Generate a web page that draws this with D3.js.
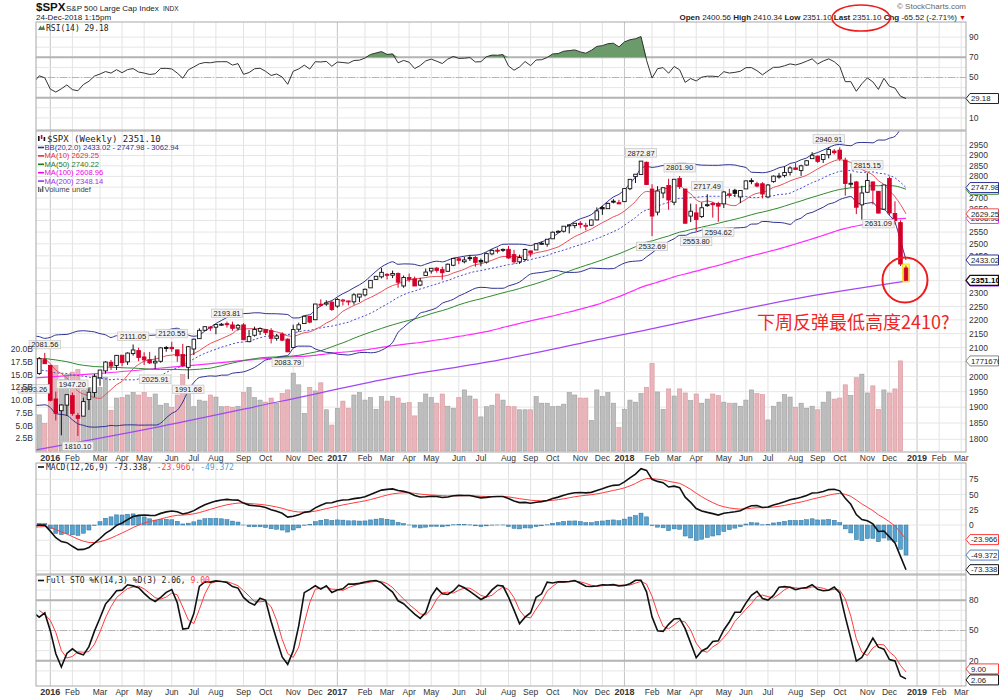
<!DOCTYPE html>
<html>
<head>
<meta charset="utf-8">
<script src="https://cdn.jsdelivr.net/npm/d3@7"></script>
<style>
body { margin: 0; background: #fff; }
</style>
</head>
<body>
<svg id="chart"></svg>
<script>
// weekly bars, Monday of each week, starting here
let firstWeek = "2015-12-14"

let open = [
  2013.37,2010.27,2057.77,2038.20,1926.12,1888.66,1906.28,1936.94,1873.25,1871.44,1924.44,1947.13,1996.11,2019.27,2048.64,2037.89,2073.19,2050.23,2078.83,2089.37,2067.17,2057.55,2046.53,2052.23,2100.13,2100.83,2091.75,2075.58,2031.45,2095.05,2131.72,2162.04,2173.71,2173.15,2183.76,2186.08,2181.58,2170.19,2181.61,2120.86,2143.99,2158.54,2164.33,2160.39,2132.95,2148.50,2129.78,2100.59,2165.64,2186.43,2212.95,2200.65,2258.83,2259.24,2266.23,
  2251.57,2273.59,2269.14,2267.78,2286.01,2294.28,2321.72,2354.91,2365.23,2375.23,2371.56,2378.24,2329.11,2362.34,2357.16,2332.62,2370.33,2388.50,2399.94,2393.98,2387.21,2411.67,2437.83,2425.88,2442.55,2443.32,2431.39,2424.51,2458.22,2473.47,2475.94,2477.14,2454.96,2425.50,2435.13,2470.35,2474.52,2502.51,2498.56,2521.20,2551.39,2553.39,2578.08,2577.75,2587.47,2577.75,2579.49,2602.66,2657.19,2652.19,2685.92,2679.09,
  2683.73,2742.67,2798.96,2809.16,2867.23,2741.06,2636.75,2722.99,2757.37,2681.06,2790.54,2741.38,2619.35,2633.45,2617.18,2670.10,2675.40,2675.01,2673.68,2718.59,2735.39,2705.11,2741.67,2780.18,2765.79,2765.49,2704.95,2775.62,2798.43,2804.55,2819.00,2840.29,2827.95,2853.93,2884.69,2896.96,2880.72,2903.83,2921.83,2926.29,2877.53,2763.83,2773.94,2669.27,2726.37,2773.93,2730.74,2649.97,2790.50,2630.86,2590.75,2400.56
]
let high = [
  2076.72,2067.03,2081.56,2038.20,1950.33,1908.85,1940.24,1947.20,1881.60,1930.68,1962.96,2009.13,2022.37,2052.36,2056.60,2074.02,2073.19,2083.41,2111.05,2099.89,2083.42,2084.87,2071.88,2100.57,2105.26,2120.55,2093.66,2113.32,2105.72,2131.72,2169.05,2175.63,2177.09,2183.48,2188.45,2193.81,2193.42,2184.87,2187.87,2163.30,2175.30,2172.67,2165.86,2169.60,2148.44,2154.79,2133.25,2182.30,2189.89,2213.35,2214.10,2259.80,2277.53,2273.82,2273.82,
  2282.10,2279.27,2272.08,2300.99,2298.31,2319.23,2351.31,2367.34,2400.98,2378.80,2390.01,2382.36,2370.42,2378.36,2366.37,2361.37,2398.16,2399.94,2403.87,2405.77,2418.71,2440.23,2446.20,2446.20,2453.82,2450.42,2439.17,2463.54,2477.62,2484.04,2480.38,2490.87,2474.93,2454.77,2480.09,2471.97,2500.23,2508.85,2519.44,2552.51,2557.65,2575.44,2582.98,2588.42,2597.02,2590.09,2604.21,2657.74,2665.19,2679.63,2694.97,2692.12,
  2743.45,2787.85,2810.33,2872.87,2870.62,2763.39,2754.42,2747.76,2789.15,2786.57,2801.90,2741.38,2674.78,2672.08,2680.26,2717.49,2682.86,2682.92,2732.86,2742.10,2742.24,2736.93,2779.90,2791.47,2774.99,2772.74,2764.41,2804.53,2816.76,2848.03,2848.03,2863.43,2855.63,2876.16,2916.50,2900.18,2906.32,2940.91,2931.42,2939.86,2889.45,2813.46,2778.94,2756.55,2815.15,2775.99,2730.74,2760.88,2800.18,2685.44,2601.13,2410.34
]
let low = [
  1993.26,2005.93,2043.62,1918.46,1857.83,1812.29,1872.70,1872.65,1810.10,1871.44,1891.00,1931.81,1969.26,2010.06,2022.49,2022.49,2035.08,2039.74,2072.02,2052.28,2039.45,2043.13,2025.91,2047.26,2085.55,2085.10,2050.37,2032.57,1991.68,2074.02,2131.72,2159.01,2159.73,2147.58,2177.97,2172.00,2160.39,2161.28,2127.81,2119.12,2139.17,2145.04,2144.85,2114.72,2124.43,2122.60,2083.79,2100.59,2156.08,2186.43,2187.44,2199.13,2249.25,2252.70,2233.62,
  2245.13,2254.25,2254.52,2257.02,2267.21,2288.54,2321.72,2352.87,2358.96,2354.54,2360.16,2322.25,2322.25,2344.73,2328.95,2328.66,2369.94,2378.20,2381.73,2353.81,2386.65,2407.70,2415.70,2419.38,2428.69,2405.70,2407.70,2418.53,2452.69,2459.93,2466.48,2437.75,2417.35,2417.35,2428.20,2446.55,2474.52,2496.67,2488.03,2521.20,2547.92,2547.92,2544.00,2566.17,2566.33,2557.45,2575.85,2600.88,2624.75,2652.19,2676.11,2673.61,
  2682.36,2736.06,2769.14,2808.12,2759.97,2532.69,2622.45,2699.38,2647.32,2667.84,2741.38,2585.89,2593.06,2553.80,2610.79,2660.02,2612.67,2594.62,2655.20,2701.91,2704.54,2676.81,2741.67,2763.59,2749.16,2698.67,2698.95,2770.49,2789.24,2795.14,2804.14,2831.44,2802.49,2850.49,2884.69,2864.12,2864.12,2886.16,2904.65,2874.02,2710.51,2749.03,2628.16,2603.54,2722.94,2670.75,2631.09,2649.97,2621.53,2583.23,2408.55,2351.10
]
let close = [
  2005.55,2060.99,2043.94,1922.03,1880.33,1906.90,1940.24,1880.05,1864.78,1917.78,1948.05,1999.99,2022.19,2049.58,2035.94,2072.78,2047.60,2080.73,2091.58,2065.30,2057.14,2046.61,2052.32,2099.06,2099.13,2096.07,2071.22,2037.41,2102.95,2129.90,2161.74,2175.03,2173.60,2182.87,2184.05,2183.87,2169.04,2179.98,2127.81,2139.16,2164.69,2168.27,2153.74,2132.98,2141.16,2126.41,2085.18,2164.45,2181.90,2213.35,2191.95,2259.53,2258.07,2263.79,2238.83,
  2276.98,2274.64,2271.31,2294.69,2297.42,2316.10,2351.16,2367.34,2383.12,2372.60,2378.25,2343.98,2362.72,2355.54,2328.95,2348.69,2384.20,2399.29,2390.90,2381.73,2415.82,2439.07,2431.77,2433.15,2438.30,2423.41,2425.18,2459.27,2472.54,2472.10,2476.83,2441.32,2425.55,2443.05,2476.55,2461.43,2500.23,2502.22,2519.36,2549.33,2553.17,2575.21,2581.07,2587.84,2582.30,2578.85,2602.42,2642.22,2651.50,2675.81,2683.34,2673.61,
  2743.15,2786.24,2810.30,2872.87,2762.13,2619.55,2732.22,2747.30,2691.25,2786.57,2752.01,2588.26,2640.87,2604.47,2656.30,2670.14,2669.91,2663.42,2727.72,2712.97,2721.33,2734.62,2779.03,2779.66,2754.88,2718.37,2759.82,2801.31,2801.83,2818.82,2840.35,2833.28,2850.13,2874.69,2901.52,2871.68,2904.98,2929.67,2913.98,2885.57,2767.13,2767.78,2658.69,2723.06,2781.01,2736.27,2632.56,2760.17,2633.08,2599.95,2416.62,2351.10
]
// weekly volume, billions of shares
let volume = [
  13.5,7.1,5.4,15.5,16.8,14.0,15.0,15.5,16.0,12.0,12.5,14.8,12.5,14.5,8.0,10.4,10.5,11.0,11.5,11.0,11.5,10.5,11.2,9.0,9.3,8.6,11.0,15.0,12.5,8.7,10.0,9.8,11.0,10.6,8.7,8.8,8.6,8.8,11.5,12.5,10.5,10.0,9.6,10.4,9.4,11.3,12.0,15.3,13.0,7.4,12.5,11.8,13.4,8.1,5.1,
  8.4,9.8,8.4,11.0,11.5,10.0,10.5,8.2,10.7,9.8,10.7,10.4,9.4,9.5,6.9,9.5,11.2,10.5,9.4,11.2,8.8,8.4,10.5,12.0,10.8,10.2,6.7,8.7,9.0,11.2,10.0,8.8,8.7,8.1,8.1,8.1,10.7,9.4,9.4,8.7,8.8,9.2,11.5,11.0,10.4,10.4,6.0,12.0,10.7,11.5,9.4,4.65,
  8.2,10.0,9.6,11.3,12.5,17.2,11.6,8.2,12.2,10.8,12.2,11.4,9.9,11.2,9.4,10.2,11.2,10.9,9.6,9.4,9.4,8.8,10.0,12.0,11.3,11.1,6.1,8.8,9.6,11.1,10.6,8.6,9.4,8.4,8.8,8.1,9.6,11.6,10.2,10.4,13.0,10.9,14.4,15.1,11.4,12.8,8.2,12.0,11.4,12.2,17.7,null
]

// 2015 weekly closes before the first bar (indicator warm-up, not drawn)
let warmClose = [
  2058.20,2044.81,2019.42,2051.82,1994.99,2055.47,2096.99,2110.30,2104.50,2071.26,2053.40,2108.10,2061.02,2066.96,2102.06,2081.18,2117.69,2108.29,2116.10,2122.73,2126.06,2107.39,2092.83,2094.11,2109.99,2101.49,2076.78,2076.62,2126.64,2079.65,2103.84,2077.57,2091.54,1970.89,1988.87,1921.22,1961.05,1958.03,1931.34,1951.36,2014.89,2033.11,2075.15,2079.36,2099.20,2023.04,2089.17,2090.11,2091.69,2012.37
]
// highs / lows of the last 16 warm-up weeks
let warmHigh = [1993.48,1992.67,1975.01,2020.86,1965.66,1951.36,2020.13,2033.54,2075.15,2094.32,2116.48,2093.84,2097.06,2093.00,2104.27,2090.42]
let warmLow = [1867.01,1903.07,1937.17,1953.03,1908.66,1871.91,1953.03,1990.73,2018.19,2069.45,2080.76,2022.02,2019.39,2080.88,2042.35,2008.80]

let ma100ReadDates = ["2015-12-17","2016-03-07","2016-07-12","2016-11-16"]
let ma100ReadValues = [1996, 2011, 2041, 2069]
let ma200Dates = ["2015-12-16","2016-05-22","2016-10-21","2017-03-09","2017-07-27","2017-12-14","2018-01-25","2018-08-12","2018-12-24"]
let ma200Values = [1768, 1839, 1918, 1994, 2057, 2137, 2161, 2283, 2348.14]

// high/low annotations
let noteWeeks = ["2015-12-28","2015-12-14","2016-02-01","2016-02-08","2016-04-18","2016-05-16","2016-06-06","2016-06-27","2016-08-15","2016-10-31","2018-01-22","2018-02-05","2018-03-12","2018-04-02","2018-04-16","2018-04-30","2018-09-17","2018-11-05","2018-11-19"]
let noteValues = [2081.56,1993.26,1947.20,1810.10,2111.05,2025.91,2120.55,1991.68,2193.81,2083.79,2872.87,2532.69,2801.90,2553.80,2717.49,2594.62,2940.91,2815.15,2631.09]
let noteSides = ["above","below","above","below","above","below","above","below","above","below","above","below","above","below","above","below","above","above","below"]

// axis ticks
let priceTicks = [1800,1850,1900,1950,2000,2050,2100,2150,2200,2250,2300,2350,2400,2450,2500,2550,2600,2650,2700,2750,2800,2850,2900,2950]
let priceLabelTicks = [1800,1850,1900,1950,2000,2100,2150,2200,2250,2300,2450,2500,2550,2650,2700,2800,2850,2900,2950]
let volumeTicks = [2.5,5,7.5,10,12.5,15,17.5,20]
let rsiGrid = [10,20,30,40,50,60,70,80,90]
let rsiLabels = [10,50,70,90]
let macdGrid = [75,50,25,0,-25,-50,-75]
let macdLabels = [75,50,25,0]
let stoGrid = [10,20,30,40,50,60,70,80,90,100]
let stoLabels = [20,50,80]

// last values as printed on the chart
let lastRsi = "29.18"
let lastMacd = ["-73.338", "-23.966", "-49.372"]
let lastSto = ["2.06", "9.00"]
let lastBB = ["2433.02", "2747.98", "3062.94"]
let lastMA = {ma10: "2629.25", ma50: "2740.22", ma100: "2608.96", ma200: "2348.14"}
let lastVolume = "17716764352"

let parse = d3.timeParse("%Y-%m-%d")
let weeks = d3.timeMonday.range(parse(firstWeek), d3.timeWeek.offset(parse(firstWeek), close.length))

let left = 36
let right = 966
let rsiP = {top: 22, bottom: 130}
let mainP = {top: 131, bottom: 452}
let macdP = {top: 463, bottom: 574}
let stoP = {top: 575, bottom: 686}

let x = d3.scaleTime().domain([new Date(2016, 0, 4), new Date(2018, 11, 24)]).range([50.3, 906])
let yP = d3.scaleLog().domain([1762, 3022]).range([mainP.bottom, mainP.top])
let yV = d3.scaleLinear().domain([0, 20]).range([451, 349.2])
let yR = d3.scaleLinear().domain([0, 100]).range([128, 27])
let yM = d3.scaleLinear().domain([0, 75]).range([525, 479.3])
let yS = d3.scaleLinear().domain([0, 100]).range([681, 580])

// ---- indicators ----
let W = warmClose.length
let allClose = warmClose.concat(close)
let allHigh = new Array(W - warmHigh.length).fill(null).concat(warmHigh, high)
let allLow = new Array(W - warmLow.length).fill(null).concat(warmLow, low)

let sma = (arr, n) => arr.map((v, i) => {
    if (i < n - 1) return null
    let s = arr.slice(i - n + 1, i + 1)
    if (s.some(d => d == null)) return null
    return d3.mean(s)
})

let ema = (arr, n) => {
    let out = arr.map(() => null)
    let start = arr.findIndex(d => d != null)
    let seed = start + n - 1
    if (start < 0 || seed >= arr.length) return out
    out[seed] = d3.mean(arr.slice(start, seed + 1))
    let k = 2 / (n + 1)
    for (let i = seed + 1; i < arr.length; i++) {
        out[i] = arr[i] * k + out[i - 1] * (1 - k)
    }
    return out
}

let ma10 = sma(allClose, 10)
let ma20 = sma(allClose, 20)
let ma50 = sma(allClose, 50)
let ma100 = sma(allClose, 100)
let bbUp = allClose.map((v, i) => {
    if (ma20[i] == null) return null
    let s = allClose.slice(i - 19, i + 1)
    let sd = Math.sqrt(d3.mean(s, d => (d - ma20[i]) ** 2))
    return ma20[i] + 2 * sd
})
let bbDn = ma20.map((m, i) => m == null ? null : 2 * m - bbUp[i])

let ema12 = ema(allClose, 12)
let ema26 = ema(allClose, 26)
let macd = allClose.map((v, i) => (ema12[i] == null || ema26[i] == null) ? null : ema12[i] - ema26[i])
let signal = ema(macd, 9)
let hist = macd.map((v, i) => (v == null || signal[i] == null) ? null : v - signal[i])

let rsi = allClose.map(() => null)
let avgGain = 0, avgLoss = 0
for (let i = 1; i < allClose.length; i++) {
    let ch = allClose[i] - allClose[i - 1]
    let g = Math.max(ch, 0), l = Math.max(-ch, 0)
    if (i <= 14) {
        avgGain += g / 14
        avgLoss += l / 14
    } else {
        avgGain = (avgGain * 13 + g) / 14
        avgLoss = (avgLoss * 13 + l) / 14
    }
    if (i >= 14) rsi[i] = 100 - 100 / (1 + avgGain / avgLoss)
}

let fastK = allClose.map((c, i) => {
    if (i < 13) return null
    let hs = allHigh.slice(i - 13, i + 1), ls = allLow.slice(i - 13, i + 1)
    if (hs.some(d => d == null) || ls.some(d => d == null)) return null
    let hh = d3.max(hs), ll = d3.min(ls)
    return 100 * (c - ll) / (hh - ll)
})
let stoK = sma(fastK, 3)
let stoD = sma(stoK, 3)

let series = arr => arr.slice(W).map((v, i) => ({date: weeks[i], v: v}))

// ---- drawing ----
let svg = d3.select("#chart")
    .attr("width", 1000)
    .attr("height", 699)
    .style("font-family", "'Liberation Sans', Arial, sans-serif")

svg.append("rect").attr("width", 1000).attr("height", 699).attr("fill", "#fff")

let defs = svg.append("defs")
let makeClip = (id, p) => {
    defs.append("clipPath").attr("id", id)
        .append("rect").attr("x", left).attr("y", p.top).attr("width", right - left).attr("height", p.bottom - p.top)
}
makeClip("clipRsi", rsiP)
makeClip("clipMain", mainP)
makeClip("clipMacd", macdP)
makeClip("clipSto", stoP)
defs.append("clipPath").attr("id", "clipPage")
    .append("rect").attr("x", 0).attr("y", 0).attr("width", 999).attr("height", 699)

let months = d3.timeMonth.range(new Date(2016, 0, 1), new Date(2019, 3, 1))
    .map(m => ({month: m, x: x(d3.timeMonday.ceil(m))}))
    .filter(d => d.x > left && d.x < right)

let drawPanelGrid = (p, hLines, yScale) => {
    let g = svg.append("g")
    months.forEach(d => {
        g.append("line")
            .attr("x1", d.x).attr("x2", d.x).attr("y1", p.top).attr("y2", p.bottom)
            .attr("stroke", d.month.getMonth() === 0 ? "#c4c4c4" : "#e3e3e3")
            .attr("stroke-width", 1)
    })
    hLines.forEach(v => {
        g.append("line")
            .attr("x1", left).attr("x2", right).attr("y1", yScale(v)).attr("y2", yScale(v))
            .attr("stroke", "#e6e6e6").attr("stroke-width", 1)
    })
    return g
}

let drawFrame = p => {
    svg.append("rect")
        .attr("x", left).attr("y", p.top).attr("width", right - left).attr("height", p.bottom - p.top)
        .attr("fill", "none").attr("stroke", "#a8a8a8").attr("stroke-width", 1)
}

let rightLabels = (vals, yScale, fmt) => {
    vals.forEach(v => {
        svg.append("text")
            .attr("x", 969).attr("y", yScale(v)).attr("dy", "0.35em")
            .attr("font-size", 8.5).attr("fill", "#333")
            .text(fmt ? fmt(v) : v)
    })
}

let keyLine = (g, y, v, dash) => {
    g.append("line")
        .attr("x1", left).attr("x2", right).attr("y1", y(v)).attr("y2", y(v))
        .attr("stroke", "#b4b4b4")
        .attr("stroke-width", dash ? 1 : 2)
        .attr("stroke-dasharray", dash ? "7,2,1,2" : null)
}

// value tag at the right edge; runs to the page edge like the original
let tag = (y, text, color, bold, textColor) => {
    let g = svg.append("g").attr("clip-path", "url(#clipPage)")
    let end = 998.5
    g.append("path")
        .attr("d", `M${right},${y} L${right + 4},${y - 5} L${end},${y - 5} L${end},${y + 5} L${right + 4},${y + 5} Z`)
        .attr("fill", "#fff").attr("stroke", color).attr("stroke-width", bold ? 1.3 : 1)
    g.append("text")
        .attr("x", right + 5).attr("y", y).attr("dy", "0.36em")
        .attr("font-size", bold ? 8 : 7.8).attr("font-weight", bold ? "bold" : "normal")
        .attr("fill", textColor || "#222")
        .text(text)
}

let lineGen = yScale => d3.line()
    .defined(d => d.v != null)
    .x(d => x(d.date))
    .y(d => yScale(d.v))

// ===== RSI panel =====
let rsiGridG = drawPanelGrid(rsiP, rsiGrid, yR)
keyLine(rsiGridG, yR, 70)
keyLine(rsiGridG, yR, 30)
keyLine(rsiGridG, yR, 50, true)

let rsiData = series(rsi)
let rsiG = svg.append("g").attr("clip-path", "url(#clipRsi)")
rsiG.append("path")
    .datum(rsiData)
    .attr("d", d3.area().defined(d => d.v != null).x(d => x(d.date)).y0(yR(70)).y1(d => yR(Math.max(d.v, 70))))
    .attr("fill", "#6b9a6b")
rsiG.append("path")
    .datum(rsiData)
    .attr("d", d3.area().defined(d => d.v != null).x(d => x(d.date)).y0(yR(30)).y1(d => yR(Math.min(d.v, 30))))
    .attr("fill", "#d98c8c")
rsiG.append("path")
    .datum(rsiData)
    .attr("d", lineGen(yR))
    .attr("fill", "none").attr("stroke", "#333").attr("stroke-width", 1)
drawFrame(rsiP)
rightLabels(rsiLabels, yR)
tag(yR(+lastRsi), lastRsi, "#222")

// RSI legend
svg.append("path").attr("d", "M38,30 L40.5,25.5 L42,28 L43.5,25 L45,30 Z").attr("fill", "#4f7f4f")
svg.append("text").attr("x", 46).attr("y", 30.5)
    .attr("font-family", "'DejaVu Sans Mono', monospace").attr("font-size", 8)
    .attr("fill", "#222").text("RSI(14) " + lastRsi)

// ===== Main panel =====
let mainGridG = drawPanelGrid(mainP, priceTicks, yP)
let mainG = svg.append("g").attr("clip-path", "url(#clipMain)")

// volume
let barW = 4.2
volume.forEach((v, i) => {
    if (v == null) return
    let prev = i > 0 ? close[i - 1] : warmClose[W - 1]
    let down = close[i] < prev
    mainG.append("rect")
        .attr("x", x(weeks[i]) - barW / 2)
        .attr("y", yV(v))
        .attr("width", barW)
        .attr("height", yV(0) - yV(v))
        .attr("fill", down ? "#e9b5ba" : "#bdbdbd")
        .attr("stroke", down ? "#d8959c" : "#9e9e9e")
        .attr("stroke-width", 0.6)
})

// overlays
let ma100Data = ma100ReadDates.map((d, i) => ({date: parse(d), v: ma100ReadValues[i]}))
    .concat(series(ma100).filter(d => d.v != null))
let ma200Data = ma200Dates.map((d, i) => ({date: parse(d), v: ma200Values[i]}))

let overlay = (data, color, width, dash) => {
    mainG.append("path")
        .datum(data)
        .attr("d", lineGen(yP).curve(d3.curveMonotoneX))
        .attr("fill", "none")
        .attr("stroke", color)
        .attr("stroke-width", width)
        .attr("stroke-dasharray", dash || null)
}
overlay(ma200Data, "#a346f2", 1.2)
overlay(ma100Data, "#ff2cff", 1.2)
overlay(series(ma50), "#2f8a2f", 1)
overlay(series(bbUp), "#2e3192", 1)
overlay(series(bbDn), "#2e3192", 1)
overlay(series(ma20), "#4b4bcc", 1, "2,2")
overlay(series(ma10), "#e8505a", 1)

// candles
let bodyW = 3.6
close.forEach((c, i) => {
    let o = open[i]
    let prev = i > 0 ? close[i - 1] : warmClose[W - 1]
    let color = c < prev ? "#d4002a" : "#111"
    let cx = x(weeks[i])
    let top = yP(Math.max(o, c)), bot = yP(Math.min(o, c))
    if (i === close.length - 1) {
        mainG.append("rect")
            .attr("x", cx - bodyW / 2 - 1.5).attr("y", yP(high[i]) - 1.5)
            .attr("width", bodyW + 3).attr("height", yP(low[i]) - yP(high[i]) + 3)
            .attr("fill", "#ffff70").attr("stroke", "#e6d800").attr("stroke-width", 0.8)
    }
    mainG.append("line")
        .attr("x1", cx).attr("x2", cx).attr("y1", yP(high[i])).attr("y2", yP(low[i]))
        .attr("stroke", color).attr("stroke-width", 1)
    mainG.append("rect")
        .attr("x", cx - bodyW / 2).attr("y", top)
        .attr("width", bodyW).attr("height", Math.max(bot - top, 1))
        .attr("fill", c >= o ? "#fff" : color)
        .attr("stroke", color).attr("stroke-width", 0.9)
})

// high / low notes
noteWeeks.forEach((w, i) => {
    let cx = x(parse(w))
    let v = noteValues[i]
    let txt = v.toFixed(2)
    let bw = txt.length * 3.9 + 4, bh = 8.5
    let by = noteSides[i] === "above" ? yP(v) - 4 - bh : yP(v) + 6
    let g = svg.append("g")
    g.append("rect")
        .attr("x", cx - bw / 2).attr("y", by).attr("width", bw).attr("height", bh)
        .attr("fill", "#f3f3f3").attr("stroke", "#c4c4c4").attr("stroke-width", 0.7)
    g.append("text")
        .attr("x", cx).attr("y", by + bh / 2).attr("dy", "0.36em")
        .attr("text-anchor", "middle").attr("font-size", 7.5).attr("fill", "#222")
        .text(txt)
})

drawFrame(mainP)

// price axis right, volume axis left
rightLabels(priceLabelTicks, yP)
volumeTicks.forEach(v => {
    svg.append("text")
        .attr("x", 33).attr("y", yV(v)).attr("dy", "0.35em")
        .attr("text-anchor", "end").attr("font-size", 8.5).attr("fill", "#333")
        .text(v.toFixed(1) + "B")
})

// right-side value tags
tag(yV(17.7), lastVolume, "#888")
tag(yP(+lastMA.ma50), lastMA.ma50, "#2f8a2f")
tag(yP(+lastBB[1]), lastBB[1], "#2e3192")
tag(yP(+lastMA.ma100), lastMA.ma100, "#ff2cff")
tag(yP(+lastMA.ma10), lastMA.ma10, "#e8505a")
tag(yP(+lastBB[0]), lastBB[0], "#2e3192")
tag(yP(+lastMA.ma200), lastMA.ma200, "#a346f2")
tag(yP(close[close.length - 1]), close[close.length - 1].toFixed(2), "#111", true, "#000")

// main legend
let legend = svg.append("g")
legend.append("rect").attr("x", 38).attr("y", 136).attr("width", 1.6).attr("height", 5).attr("fill", "#111")
legend.append("rect").attr("x", 40.8).attr("y", 135).attr("width", 1.6).attr("height", 4).attr("fill", "#d4002a")
legend.append("rect").attr("x", 43.6).attr("y", 137).attr("width", 1.6).attr("height", 4).attr("fill", "#111")
legend.append("text").attr("x", 47).attr("y", 141.5)
    .attr("font-family", "'DejaVu Sans Mono', monospace").attr("font-size", 9).attr("fill", "#222")
    .text("$SPX (Weekly) " + close[close.length - 1].toFixed(2))
let legendRows = [
    ["BB(20,2.0) " + lastBB.join(" - "), "#2e3192"],
    ["MA(10) " + lastMA.ma10, "#e0303a"],
    ["MA(50) " + lastMA.ma50, "#1f7a1f"],
    ["MA(100) " + lastMA.ma100, "#ee00ee"],
    ["MA(200) " + lastMA.ma200, "#9a30f0"]
]
legendRows.forEach((r, i) => {
    let y = 150 + i * 8.4
    legend.append("line").attr("x1", 38).attr("x2", 44).attr("y1", y - 2.5).attr("y2", y - 2.5)
        .attr("stroke", r[1]).attr("stroke-width", 1.6)
    legend.append("text").attr("x", 44.5).attr("y", y)
        .attr("font-size", 7.6).attr("fill", r[1]).text(r[0])
})
let vy = 150 + 5 * 8.4
legend.append("rect").attr("x", 38).attr("y", vy - 5).attr("width", 1.4).attr("height", 5).attr("fill", "#666")
legend.append("rect").attr("x", 40).attr("y", vy - 3.5).attr("width", 1.4).attr("height", 3.5).attr("fill", "#666")
legend.append("rect").attr("x", 42).attr("y", vy - 6).attr("width", 1.4).attr("height", 6).attr("fill", "#666")
legend.append("text").attr("x", 44.5).attr("y", vy).attr("font-size", 7.6).attr("fill", "#444").text("Volume undef")

// ===== MACD panel =====
drawPanelGrid(macdP, macdGrid, yM)
let macdG = svg.append("g").attr("clip-path", "url(#clipMacd)")
series(hist).forEach(d => {
    if (d.v == null) return
    let y0 = yM(0), y1 = yM(d.v)
    macdG.append("rect")
        .attr("x", x(d.date) - 2).attr("y", Math.min(y0, y1))
        .attr("width", 4).attr("height", Math.abs(y1 - y0))
        .attr("fill", "#56a3d0").attr("stroke", "#2c6f99").attr("stroke-width", 0.5)
})
macdG.append("path").datum(series(signal))
    .attr("d", lineGen(yM)).attr("fill", "none").attr("stroke", "#ff3c3c").attr("stroke-width", 1)
macdG.append("path").datum(series(macd))
    .attr("d", lineGen(yM)).attr("fill", "none").attr("stroke", "#111").attr("stroke-width", 1.6)
drawFrame(macdP)
rightLabels(macdLabels, yM)
tag(yM(+lastMacd[1]), lastMacd[1], "#ff3c3c")
tag(yM(+lastMacd[2]), lastMacd[2], "#5b7fb8")
tag(yM(+lastMacd[0]), lastMacd[0], "#111")

svg.append("line").attr("x1", 38).attr("x2", 44).attr("y1", 467).attr("y2", 467).attr("stroke", "#111").attr("stroke-width", 1.6)
let macdText = svg.append("text").attr("x", 46).attr("y", 469.5)
    .attr("font-family", "'DejaVu Sans Mono', monospace").attr("font-size", 8)
macdText.append("tspan").attr("fill", "#222").text("MACD(12,26,9) " + lastMacd[0])
macdText.append("tspan").attr("fill", "#ff3c3c").text(", " + lastMacd[1])
macdText.append("tspan").attr("fill", "#3f9fd9").text(", " + lastMacd[2])

// ===== STO panel =====
let stoGridG = drawPanelGrid(stoP, stoGrid, yS)
keyLine(stoGridG, yS, 80)
keyLine(stoGridG, yS, 20)
keyLine(stoGridG, yS, 50, true)
let stoG = svg.append("g").attr("clip-path", "url(#clipSto)")
stoG.append("path").datum(series(stoD))
    .attr("d", lineGen(yS)).attr("fill", "none").attr("stroke", "#ff3c3c").attr("stroke-width", 1)
stoG.append("path").datum(series(stoK))
    .attr("d", lineGen(yS)).attr("fill", "none").attr("stroke", "#111").attr("stroke-width", 1.6)
drawFrame(stoP)
rightLabels(stoLabels, yS)
tag(yS(+lastSto[1]) - 3, lastSto[1], "#ff3c3c")
tag(yS(+lastSto[0]) + 1, lastSto[0], "#111")

svg.append("line").attr("x1", 38).attr("x2", 44).attr("y1", 580.5).attr("y2", 580.5).attr("stroke", "#111").attr("stroke-width", 1.6)
let stoText = svg.append("text").attr("x", 46).attr("y", 583)
    .attr("font-family", "'DejaVu Sans Mono', monospace").attr("font-size", 8)
stoText.append("tspan").attr("fill", "#222").text("Full STO %K(14,3) %D(3) " + lastSto[0] + ", ")
stoText.append("tspan").attr("fill", "#ff3c3c").text(lastSto[1])

// ===== month labels =====
let monthFmt = d3.timeFormat("%b")
let yearFmt = d3.timeFormat("%Y")
;[461, 695].forEach(ly => {
    months.forEach(d => {
        let isYear = d.month.getMonth() === 0
        svg.append("text")
            .attr("x", d.x).attr("y", ly)
            .attr("text-anchor", "middle")
            .attr("font-size", isYear ? 9 : 8.5)
            .attr("font-weight", isYear ? "bold" : "normal")
            .attr("fill", "#333")
            .text(isYear ? yearFmt(d.month) : monthFmt(d.month))
    })
})

// ===== header =====
svg.append("text").attr("x", 36).attr("y", 11).attr("font-size", 11.5).attr("font-weight", "bold").attr("fill", "#111").text("$SPX")
svg.append("text").attr("x", 66).attr("y", 11).attr("font-size", 8).attr("fill", "#222").text("S&P 500 Large Cap Index")
svg.append("text").attr("x", 163).attr("y", 11).attr("font-size", 6.5).attr("fill", "#222").text("INDX")
svg.append("text").attr("x", 36).attr("y", 19.5).attr("font-size", 8).attr("fill", "#222").text("24-Dec-2018 1:15pm")
svg.append("text").attr("x", 966).attr("y", 8.5).attr("text-anchor", "end").attr("font-size", 8).attr("fill", "#666").text("© StockCharts.com")

let quote = svg.append("text").attr("x", 957).attr("y", 19.5).attr("text-anchor", "end").attr("font-size", 8).attr("fill", "#222")
;[["Open", "2400.56"], ["High", "2410.34"], ["Low", "2351.10"], ["Last", "2351.10"], ["Chg", "-65.52 (-2.71%)"]].forEach((q, i) => {
    quote.append("tspan").attr("font-weight", "bold").text((i ? "  " : "") + q[0] + " ")
    quote.append("tspan").text(q[1])
})
svg.append("text").attr("x", 959).attr("y", 19.5).attr("font-size", 7).attr("fill", "#c00").text("▼")

// ===== hand-drawn annotations =====
svg.append("ellipse").attr("cx", 861).attr("cy", 18).attr("rx", 29).attr("ry", 13)
    .attr("fill", "none").attr("stroke", "#ee1c1c").attr("stroke-width", 1.6)
svg.append("circle").attr("cx", 905).attr("cy", 280).attr("r", 22.5)
    .attr("fill", "none").attr("stroke", "#ee1c1c").attr("stroke-width", 2)
svg.append("text").attr("x", 757).attr("y", 329)
    .attr("font-family", "'Noto Sans CJK SC', sans-serif").attr("font-size", 18).attr("fill", "#f02626")
    .text("下周反弹最低高度2410?")
</script>
</body>
</html>
